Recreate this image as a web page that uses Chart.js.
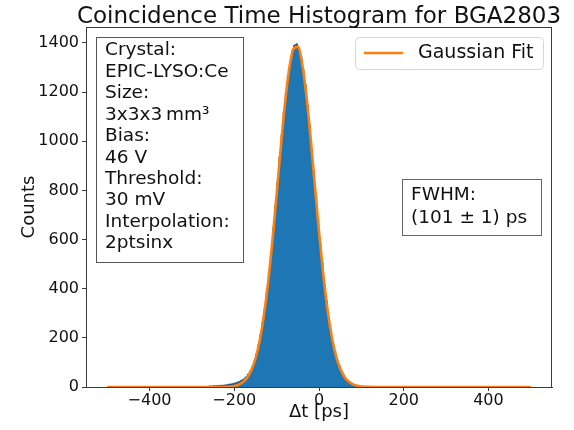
<!DOCTYPE html>
<html><head><meta charset="utf-8">
<script src="https://cdn.jsdelivr.net/npm/chart.js@4.4.0/dist/chart.umd.min.js"></script>
<style>html,body{margin:0;padding:0;background:#fff;} canvas{display:block;}</style>
</head><body>
<canvas id="c" width="574" height="430"></canvas>
<script>
// ---- data ----
const binStart = -500;      // left edge of first histogram bin [ps]
const binWidth = 5;         // bin width [ps]
const counts = [
  0,0,0,0,0,0,0,0,0,0, 0,0,0,0,0,0,0,0,0,0, 0,0,0,0,0,0,0,0,0,0,
  0,0,0,0,0,0,0,0,0,0, 0,0,0,0,0,0,0,0,
  3,3,4,4,5,5,6,7,8,10,
  11,13,15,18,21,26,31,39,50,63,
  80,103,133,168,212,264,320,392,470,549,
  645,738,830,935,1025,1120,1195,1270,1320,1366,
  1390,1395,1372,1344,1288,1230,1146,1066,968,877,
  772,682,584,503,418,350,283,232,182,146,
  111,87,64,49,35,26,18,13,9,6,
  4,3,2,1,1,
  0,0,0,0,0,0,0,0,0,0, 0,0,0,0,0,0,0,0,0,0, 0,0,0,0,0,0,0,0,0,0,
  0,0,0,0,0,0,0,0,0,0, 0,0,0,0,0,0,0,0,0,0, 0,0,0,0,0,0,0,0,0,0,
  0,0,0,0,0,0,0,0,0,0, 0,0,0,0,0,0,0
];
const fitStart = -500;      // first x of fitted curve samples [ps]
const fitStep = 10;
const fitValues = [
  0,0,0,0,0,0,0,0,0,0, 0,0,0,0,0,0,0,0,0,0, 0,0,0,0,0,0,
  0.1,0.3,0.8,1.9,4.3,9.4,19,37,67,115,
  188,292,428,595,785,979,1158,1297,1377,1384,
  1318,1189,1017,823,632,459,316,206,127,75,
  41,22,11,5.1,2.3,1.0,0.4,0.1,
  0,0,0,0,0,0,0,0,0,0, 0,0,0,0,0,0,0,0,0,0, 0,0,0,0,0,0,0,0,0,0, 0,0,0,0,0,0,0
];
const xTickValues = [-400, -200, 0, 200, 400];
const yTickValues = [0, 200, 400, 600, 800, 1000, 1200, 1400];
const titleText = 'Coincidence Time Histogram for BGA2803';
const xLabel = 'Δt [ps]';
const yLabel = 'Counts';
const legendLabel = 'Gaussian Fit';
const infoLines = ['Crystal:', 'EPIC-LYSO:Ce', 'Size:', '3x3x3\u2009mm³', 'Bias:', '46 V', 'Threshold:', '30 mV', 'Interpolation:', '2ptsinx'];
const fwhmLines = ['FWHM:', '(101 ± 1) ps'];

// ---- build datasets ----
const barPts = counts.map((v, i) => ({x: binStart + binWidth * (i + 0.5), y: v}));
const dotPts = barPts.filter(p => p.y > 0);
const fitPts = fitValues.map((v, i) => ({x: fitStart + fitStep * i, y: v}));

const FONT = '"DejaVu Sans", "Liberation Sans", sans-serif';
const BLUE = '#1f77b4', ORANGE = '#ff7f0e', AX = '#3a3a3a';

const decor = {
  id: 'decor',
  afterDraw(chart) {
    const {ctx, chartArea: a} = chart;
    ctx.save();
    // top & right spines
    ctx.strokeStyle = AX; ctx.lineWidth = 1;
    ctx.beginPath();
    ctx.moveTo(a.left, a.top + 0.5); ctx.lineTo(a.right, a.top + 0.5);
    ctx.moveTo(a.right - 0.5, a.top); ctx.lineTo(a.right - 0.5, a.bottom);
    ctx.stroke();
    // title
    ctx.fillStyle = '#111';
    ctx.font = '23px ' + FONT;
    ctx.textAlign = 'center'; ctx.textBaseline = 'alphabetic';
    ctx.fillText(titleText, 319, 23);
    // info box
    ctx.font = '18.5px ' + FONT;
    ctx.textAlign = 'left'; ctx.textBaseline = 'middle';
    ctx.fillStyle = 'rgba(255,255,255,0.9)';
    ctx.fillRect(96.5, 37.5, 147, 225);
    ctx.strokeStyle = '#555'; ctx.strokeRect(96.5, 37.5, 147, 225);
    ctx.fillStyle = '#111';
    infoLines.forEach((t, i) => ctx.fillText(t, 105, 50.5 + i * 21.45));
    // fwhm box
    ctx.fillStyle = 'rgba(255,255,255,0.9)';
    ctx.fillRect(402.5, 179.5, 139, 56);
    ctx.strokeStyle = '#666'; ctx.strokeRect(402.5, 179.5, 139, 56);
    ctx.fillStyle = '#111';
    fwhmLines.forEach((t, i) => ctx.fillText(t, 411, 195 + i * 23));
    // legend
    ctx.font = '19px ' + FONT;
    const lx = 355.5, ly = 37.5, lw = 188, lh = 32, r = 4;
    ctx.beginPath();
    ctx.moveTo(lx + r, ly); ctx.lineTo(lx + lw - r, ly); ctx.arcTo(lx + lw, ly, lx + lw, ly + r, r);
    ctx.lineTo(lx + lw, ly + lh - r); ctx.arcTo(lx + lw, ly + lh, lx + lw - r, ly + lh, r);
    ctx.lineTo(lx + r, ly + lh); ctx.arcTo(lx, ly + lh, lx, ly + lh - r, r);
    ctx.lineTo(lx, ly + r); ctx.arcTo(lx, ly, lx + r, ly, r); ctx.closePath();
    ctx.fillStyle = 'rgba(255,255,255,0.85)'; ctx.fill();
    ctx.strokeStyle = '#d6d6d6'; ctx.stroke();
    ctx.strokeStyle = ORANGE; ctx.lineWidth = 2.6;
    ctx.beginPath(); ctx.moveTo(364, 53); ctx.lineTo(403, 53); ctx.stroke();
    ctx.fillStyle = '#111';
    ctx.fillText(legendLabel, 418, 53);
    ctx.restore();
  }
};

const fmt = v => String(v).replace('-', '\u2212');

new Chart(document.getElementById('c'), {
  type: 'bar',
  data: {
    datasets: [
      {type: 'line', label: legendLabel, data: fitPts, borderColor: ORANGE, borderWidth: 2.6,
       pointRadius: 0, cubicInterpolationMode: 'monotone', fill: false, order: 1},
      {type: 'scatter', label: 'data', data: dotPts, backgroundColor: 'rgba(55,65,80,0.7)',
       borderWidth: 0, pointRadius: 1.1, order: 2},
      {type: 'bar', label: 'hist', data: barPts, backgroundColor: BLUE, borderColor: BLUE,
       borderWidth: 0.6, borderSkipped: false, inflateAmount: 0.5,
       barPercentage: 1, categoryPercentage: 1, order: 3}
    ]
  },
  options: {
    responsive: false, animation: false, devicePixelRatio: 1,
    layout: {padding: {left: 0, right: 22, top: 27, bottom: 0}},
    plugins: {legend: {display: false}, title: {display: false}, tooltip: {enabled: false}},
    scales: {
      x: {
        type: 'linear', min: -550, max: 550, offset: false,
        afterFit: s => { s.height = 43; },
        afterBuildTicks: s => { s.ticks = xTickValues.map(v => ({value: v})); },
        ticks: {callback: fmt, color: '#111', font: {family: FONT, size: 16}, padding: 0, maxRotation: 0, autoSkip: false},
        grid: {display: true, drawOnChartArea: false, drawTicks: true, tickLength: 4, tickColor: AX, offset: false},
        border: {display: true, color: AX, width: 1},
        title: {display: true, text: xLabel, color: '#111', font: {family: FONT, size: 18}, padding: {top: 0, bottom: 7}}
      },
      y: {
        type: 'linear', min: 0, max: 1465,
        afterFit: s => { s.width = 86; },
        afterBuildTicks: s => { s.ticks = yTickValues.map(v => ({value: v})); },
        ticks: {callback: fmt, color: '#111', font: {family: FONT, size: 16}, padding: 3, autoSkip: false},
        grid: {display: true, drawOnChartArea: false, drawTicks: true, tickLength: 4, tickColor: AX},
        border: {display: true, color: AX, width: 1},
        title: {display: true, text: yLabel, color: '#111', font: {family: FONT, size: 18}, padding: {top: 19, bottom: 0}}
      }
    }
  },
  plugins: [decor]
});
</script>
</body></html>
